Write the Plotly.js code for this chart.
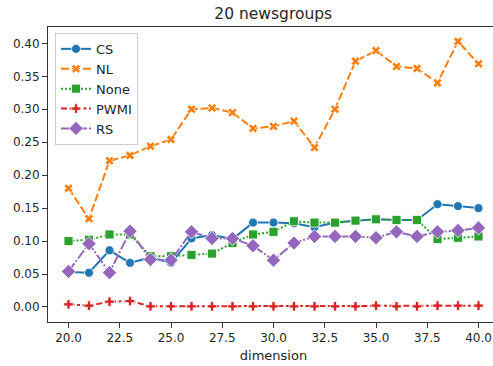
<!DOCTYPE html>
<html>
<head>
<meta charset="utf-8">
<script src="https://cdn.plot.ly/plotly-3.0.1.min.js"></script>
<style>
html,body{margin:0;padding:0;overflow:hidden;background:#fff;}
#chart{width:500px;height:366px;}
</style>
</head>
<body>
<div id="chart"></div>
<script>
var dims = [20,21,22,23,24,25,26,27,28,29,30,31,32,33,34,35,36,37,38,39,40];
var csVals   = [0.053,0.052,0.086,0.067,0.075,0.067,0.104,0.109,0.103,0.128,0.128,0.127,0.121,0.128,0.131,0.133,0.132,0.132,0.156,0.153,0.150];
var nlVals   = [0.180,0.134,0.222,0.230,0.244,0.254,0.300,0.302,0.295,0.271,0.274,0.282,0.242,0.300,0.373,0.389,0.365,0.362,0.340,0.403,0.369];
var noneVals = [0.100,0.102,0.110,0.110,0.077,0.077,0.079,0.081,0.097,0.110,0.114,0.130,0.128,0.128,0.131,0.133,0.132,0.132,0.103,0.105,0.107];
var pwmiVals = [0.004,0.002,0.008,0.009,0.001,0.001,0.001,0.001,0.001,0.001,0.001,0.001,0.001,0.001,0.001,0.002,0.001,0.001,0.002,0.002,0.002];
var rsVals   = [0.054,0.096,0.052,0.115,0.072,0.071,0.114,0.104,0.104,0.093,0.071,0.097,0.107,0.107,0.107,0.105,0.114,0.107,0.114,0.116,0.120];
var seriesNames = ["CS","NL","None","PWMI","RS"];
var tickVals = [20,22.5,25,27.5,30,32.5,35,37.5,40];
var tickText = ["20.0","22.5","25.0","27.5","30.0","32.5","35.0","37.5","40.0"];
var yTickVals = [0,0.05,0.1,0.15,0.2,0.25,0.3,0.35,0.4];
var yTickText = ["0.00","0.05","0.10","0.15","0.20","0.25","0.30","0.35","0.40"];

var styles = [
  {color:"#1f77b4", dash:"solid", symbol:"circle", size:9},
  {color:"#ff7f0e", dash:"8px,3px", symbol:"x", size:8},
  {color:"#2ca02c", dash:"2px,2px", symbol:"square", size:9},
  {color:"#d62728", dash:"6px,2.5px,3px,2.5px", symbol:"cross", size:8},
  {color:"#9467bd", dash:"10px,2px,2px,2px", symbol:"diamond", size:11}
];
var allVals = [csVals, nlVals, noneVals, pwmiVals, rsVals];
var traces = allVals.map(function(v,i){
  var s = styles[i];
  return {
    x: dims, y: v, name: seriesNames[i], type: "scatter", mode: "lines+markers",
    line: {color: s.color, width: 2, dash: s.dash},
    marker: {color: s.color, symbol: s.symbol, size: s.size, line: {color: "#fff", width: 0.8}}
  };
});

var font = "DejaVu Sans, sans-serif";
var layout = {
  width: 500, height: 366,
  margin: {l: 48, r: 1, t: 27, b: 44},
  paper_bgcolor: "#fff", plot_bgcolor: "#fff",
  font: {family: font, color: "#262626", size: 12},
  title: {text: "20 newsgroups", font: {family: font, size: 15.5, color: "#262626"},
          x: 0.5465, xref: "container", xanchor: "center", y: 1 - 14/366, yref: "container", yanchor: "middle"},
  xaxis: {
    range: [19, 41], tickvals: tickVals, ticktext: tickText,
    showgrid: false, zeroline: false, showline: true, mirror: true, linecolor: "#333", linewidth: 1,
    ticks: "outside", ticklen: 5, tickcolor: "#333", tickwidth: 1,
    tickfont: {family: font, size: 12, color: "#262626"},
    title: {text: "dimension", font: {family: font, size: 13, color: "#262626"}, standoff: 6}
  },
  yaxis: {
    range: [-0.0228, 0.4248], tickvals: yTickVals, ticktext: yTickText,
    showgrid: false, zeroline: false, showline: true, mirror: true, linecolor: "#333", linewidth: 1,
    ticks: "outside", ticklen: 5, tickcolor: "#333", tickwidth: 1,
    tickfont: {family: font, size: 12, color: "#262626"}
  },
  legend: {
    x: 0.0155, y: 0.98, xanchor: "left", yanchor: "top",
    bgcolor: "rgba(255,255,255,0.8)", bordercolor: "#cccccc", borderwidth: 1,
    font: {family: font, size: 13, color: "#262626"}, tracegroupgap: 0
  },
  showlegend: true
};
Plotly.newPlot("chart", traces, layout, {staticPlot: true, displayModeBar: false});
</script>
</body>
</html>
